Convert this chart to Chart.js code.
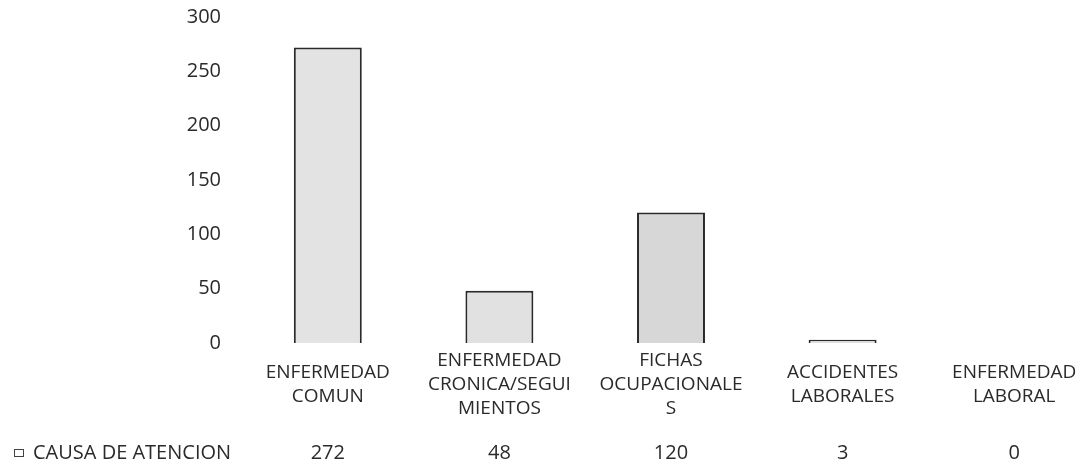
<!DOCTYPE html>
<html>
<head>
<meta charset="utf-8">
<script src="https://cdn.jsdelivr.net/npm/chart.js"></script>
<style>
  html, body { margin: 0; padding: 0; background: #fff; overflow: hidden; }
  #wrap { width: 1102px; height: 470px; }
</style>
</head>
<body>
<div id="wrap"><canvas id="chart" width="1102" height="470"></canvas></div>

<script>
const categories = [
  ['ENFERMEDAD', 'COMUN'],
  ['ENFERMEDAD', 'CRONICA/SEGUI', 'MIENTOS'],
  ['FICHAS', 'OCUPACIONALE', 'S'],
  ['ACCIDENTES', 'LABORALES'],
  ['ENFERMEDAD', 'LABORAL']
];
const seriesName = 'CAUSA DE ATENCION';
const atenciones = [272, 48, 120, 3, 0];
const yTicks = [0, 50, 100, 150, 200, 250, 300];

const FONT = '"Open Sans", "Noto Sans", sans-serif';
const TEXT = '#2a2a2a';

// data table under the axis: series name on the left, one value per column
const dataTable = {
  id: 'dataTable',
  afterDraw(chart) {
    const ctx = chart.ctx;
    const x = chart.scales.x;
    const y = 453;
    ctx.save();
    ctx.font = '20px ' + FONT;
    ctx.fillStyle = TEXT;
    ctx.textBaseline = 'middle';
    ctx.textAlign = 'center';
    atenciones.forEach((v, i) => ctx.fillText(String(v), x.getPixelForValue(i), y));
    ctx.textAlign = 'left';
    ctx.fillText(seriesName, 33, y);
    ctx.strokeStyle = '#444';
    ctx.lineWidth = 1;
    ctx.strokeRect(14.5, 449.5, 9, 7);
    ctx.restore();
  }
};

new Chart(document.getElementById('chart'), {
  type: 'bar',
  data: {
    labels: categories,
    datasets: [{
      label: seriesName,
      data: atenciones,
      backgroundColor: ['#e3e3e3', '#e1e1e1', '#d7d7d7', '#e1e1e1', '#e1e1e1'],
      borderColor: '#2a2a2a',
      borderWidth: 2,
      barPercentage: 0.396,
      categoryPercentage: 1
    }]
  },
  options: {
    responsive: false,
    animation: false,
    layout: { padding: { top: 17, right: 2, bottom: 0, left: 0 } },
    plugins: {
      legend: { display: false },
      tooltip: { enabled: false }
    },
    scales: {
      x: {
        grid: { display: false, drawTicks: false },
        border: { display: false },
        ticks: {
          color: TEXT,
          font: { family: FONT, size: 19, lineHeight: 1.26 },
          maxRotation: 0,
          autoSkip: false,
          padding: 18,
          crossAlign: 'center'
        },
        afterFit(scale) { scale.height = 127; }
      },
      y: {
        min: 0,
        max: 300,
        afterBuildTicks(scale) { scale.ticks = yTicks.map(v => ({ value: v })); },
        grid: { display: false, drawTicks: false },
        border: { display: false },
        ticks: {
          color: TEXT,
          font: { family: FONT, size: 20 },
          padding: 21
        },
        afterFit(scale) {
          scale.width = 242;
          scale.paddingTop = 0;
          scale.paddingBottom = 0;
        }
      }
    }
  },
  plugins: [dataTable]
});
</script>
</body>
</html>
